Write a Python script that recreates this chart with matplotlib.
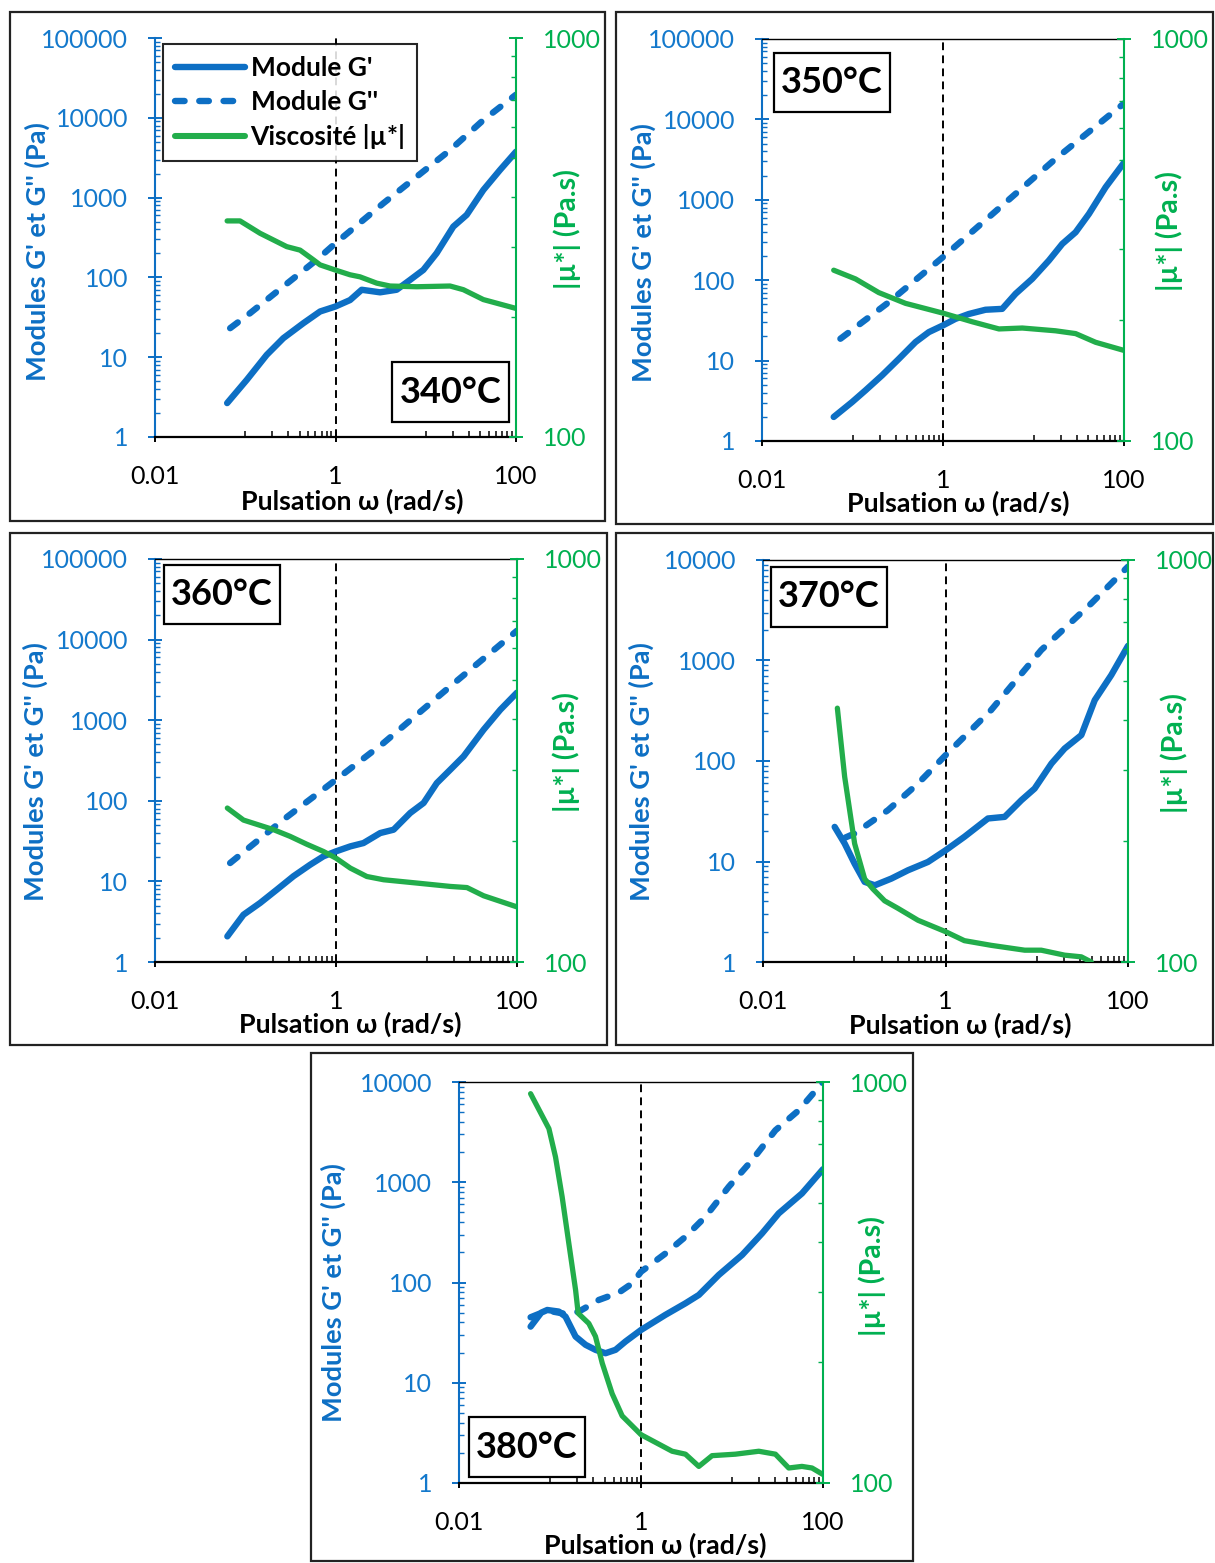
import numpy as np
import matplotlib.pyplot as plt
from matplotlib.patches import Rectangle
from matplotlib.lines import Line2D
from matplotlib.ticker import FixedLocator, FixedFormatter, NullFormatter

plt.rcParams['font.family'] = ['Lato', 'DejaVu Sans']

W, H = 1215, 1563
BLUE = '#0d6fc4'
BLUE_TXT = '#1479cc'
GREEN = '#22ad4b'
GREEN_AX = '#00b050'

# ---------------- data ----------------
# 340°C
w340_g1 = [0.063, 0.104, 0.173, 0.264, 0.441, 0.675, 1.0, 1.45, 1.95, 3.12, 4.76, 6.7, 9.4, 13.2, 20.2, 28.4, 43.5, 66.5, 100]
g1_340 = [2.66, 5.2, 10.7, 17.3, 26.7, 37.4, 43.2, 52, 70, 65, 70, 93, 124, 201, 433, 607, 1247, 2220, 3760]
w340_g2 = [0.068, 0.113, 0.264, 0.619, 1.0, 3.39, 7.94, 18.6, 43.5, 100]
g2_340 = [23.1, 35.6, 76.9, 166, 268, 849, 1830, 3940, 9380, 19500]
w340_eta = [0.063, 0.0875, 0.146, 0.288, 0.405, 0.569, 0.675, 1.0, 1.45, 1.87, 2.86, 4.02, 7.94, 18.6, 26.1, 43.5, 100]
eta_340 = [348, 348, 324, 300, 294, 278, 270, 262, 255, 252, 243, 239, 238, 239, 234, 221, 210]

# 350°C
w350_g1 = [0.062, 0.099, 0.139, 0.212, 0.325, 0.497, 0.697, 1.0, 1.37, 1.93, 2.95, 4.51, 6.34, 9.68, 14.8, 20.8, 29.2, 41.0, 62.7, 100]
g1_350 = [1.99, 3.05, 4.26, 6.55, 10.5, 17, 22.6, 27.4, 33, 38, 42.9, 44, 67.8, 104, 176, 283, 395, 668, 1435, 2900]
w350_g2 = [0.0735, 0.252, 1.0, 3.21, 17.5, 100]
g2_350 = [18.7, 53.3, 194, 608, 3230, 15800]
w350_eta = [0.062, 0.108, 0.195, 0.385, 1.0, 2.10, 4.15, 7.52, 17.5, 29.2, 48.6, 100]
eta_350 = [266, 253, 234, 220, 208, 198, 190, 191, 188, 185, 176, 168]

# 360°C
w360_g1 = [0.063, 0.095, 0.145, 0.222, 0.339, 0.518, 0.728, 1.0, 1.44, 2.01, 3.08, 4.33, 6.61, 9.29, 13.0, 18.3, 25.7, 42.8, 65.5, 100]
g1_360 = [2.08, 3.86, 5.4, 7.9, 11.6, 16.1, 20.5, 23.6, 27.2, 29.9, 39.8, 43.8, 70.6, 94, 166, 243, 356, 763, 1351, 2200]
w360_g2 = [0.0676, 0.262, 1.0, 3.35, 18.3, 100]
g2_360 = [16.9, 58.3, 183, 521, 2630, 12900]
w360_eta = [0.063, 0.095, 0.204, 0.311, 0.475, 0.728, 1.0, 1.44, 2.19, 3.35, 7.83, 18.3, 28.0, 42.8, 100]
eta_360 = [241, 225, 213, 205, 196, 188, 181, 171, 163, 160, 157, 154, 153, 146, 137]

# 370°C
w370_g1 = [0.061, 0.0785, 0.101, 0.130, 0.168, 0.255, 0.388, 0.643, 1.0, 1.61, 2.92, 4.45, 6.78, 9.48, 14.5, 20.2, 30.8, 43.2, 65.6, 100]
g1_370 = [22.1, 15.1, 9.5, 6.27, 5.8, 6.76, 8.18, 9.9, 12.9, 17.6, 26.8, 27.8, 40.7, 53.2, 94.4, 133, 181, 403, 716, 1400]
w370_g2 = [0.0798, 0.101, 0.234, 0.50, 1.0, 3.16, 11.2, 39.6, 100]
g2_370 = [17.3, 19.0, 32.4, 59.7, 114, 321, 1270, 3700, 8590]
w370_eta = [0.0653, 0.0785, 0.101, 0.130, 0.160, 0.215, 0.301, 0.50, 1.0, 1.61, 3.18, 7.38, 11.2, 20.2, 30.8, 39.6]
eta_370 = [428, 289, 197, 161, 152, 142, 136, 127, 119, 113, 110, 107, 107, 104, 103, 100]

# 380°C
w380_g1 = [0.0612, 0.08, 0.0933, 0.125, 0.148, 0.191, 0.246, 0.316, 0.407, 0.525, 0.676, 1.0, 1.85, 3.08, 4.32, 7.16, 12.9, 21.4, 32.6, 58.7, 100]
g1_380 = [36.3, 50, 53.2, 51.3, 45.7, 28.9, 23.9, 21.3, 19.7, 21.3, 25.8, 33.6, 47.5, 62, 75.1, 119, 188, 309, 489, 773, 1350]
w380_g2 = [0.0612, 0.0933, 0.148, 0.207, 0.344, 0.571, 0.80, 1.0, 1.86, 3.08, 5.11, 9.2, 16.6, 30.0, 54.1, 100]
g2_380 = [45, 52.5, 48.6, 51.2, 67, 79.3, 98, 128, 195, 286, 453, 900, 1660, 3300, 5220, 10000]
w380_eta = [0.0612, 0.0973, 0.115, 0.136, 0.161, 0.191, 0.204, 0.267, 0.316, 0.375, 0.482, 0.621, 1.0, 1.57, 2.20, 3.08, 4.32, 6.04, 10.9, 19.7, 30.0, 42.0, 58.7, 75.7, 100]
eta_380 = [935, 765, 650, 517, 396, 303, 265, 250, 232, 199, 167, 147, 132, 125, 120, 118, 110, 117, 118, 120, 118, 109, 110, 109, 105]

temps = ['340°C', '350°C', '360°C', '370°C', '380°C']
series = [
    (w340_g1, g1_340, w340_g2, g2_340, w340_eta, eta_340),
    (w350_g1, g1_350, w350_g2, g2_350, w350_eta, eta_350),
    (w360_g1, g1_360, w360_g2, g2_360, w360_eta, eta_360),
    (w370_g1, g1_370, w370_g2, g2_370, w370_eta, eta_370),
    (w380_g1, g1_380, w380_g2, g2_380, w380_eta, eta_380),
]
g_max = [1e5, 1e5, 1e5, 1e4, 1e4]

x_major = [0.01, 1, 100]
x_major_labels = ['0.01', '1', '100']
x_minor = [k * 0.1 for k in range(1, 10)] + [k * 10 for k in range(1, 10)]
eta_major = [100, 1000]
eta_major_labels = ['100', '1000']
eta_minor = [k * 100 for k in range(2, 10)]

legend_labels = ["Module G'", "Module G''", "Viscosité |µ*|"]

# ---------------- layout (pixels) ----------------
layout = [
    dict(axes=(155, 38, 516, 437), border=(10, 12, 605, 521), yl=(37, 252), yr=(567, 229),
         xl=(352, 501), tbox=(392, 362, 509, 422), top=False),
    dict(axes=(762, 39, 1124, 441), border=(616, 12, 1213, 524), yl=(643, 253), yr=(1169, 231),
         xl=(958, 503), tbox=(774, 53, 890, 112), top=True),
    dict(axes=(155, 559, 517, 962), border=(10, 533, 607, 1045), yl=(35, 772), yr=(566, 752),
         xl=(350, 1024), tbox=(164, 565, 280, 624), top=True),
    dict(axes=(763, 560, 1128, 962), border=(616, 533, 1213, 1045), yl=(641, 772), yr=(1174, 753),
         xl=(960, 1025), tbox=(771, 567, 887, 627), top=True),
    dict(axes=(459, 1082, 823, 1483), border=(311, 1053, 913, 1561), yl=(333, 1293), yr=(872, 1276),
         xl=(655, 1545), tbox=(469, 1417, 585, 1477), top=True),
]

LW_G = 4.6
LW_ETA = 3.8
DASH = (0, (1.5, 2.3))


def fig_rect(x0, y0, x1, y1):
    return [x0 / W, 1 - y1 / H, (x1 - x0) / W, (y1 - y0) / H]


fig = plt.figure(figsize=(W / 100, H / 100), dpi=100)

for i, p in enumerate(layout):
    w1, g1, w2, g2, we, eta = series[i]
    x0, y0, x1, y1 = p['axes']
    ax = fig.add_axes(fig_rect(x0, y0, x1, y1))
    ax2 = ax.twinx()

    def frac(px, py):
        return (px - x0) / (x1 - x0), (y1 - py) / (y1 - y0)

    ax.axvline(1, color='k', lw=1.4, ls=(0, (4, 2.7)), zorder=1)
    ax.plot(w1, g1, color=BLUE, lw=LW_G, solid_capstyle='round', solid_joinstyle='round', zorder=3)
    ax.plot(w2, g2, color=BLUE, lw=LW_G, ls=DASH, dash_capstyle='round', zorder=3)
    ax2.plot(we, eta, color=GREEN, lw=LW_ETA, solid_capstyle='round', solid_joinstyle='round')

    ax.set_xscale('log')
    ax.set_xlim(0.01, 100)
    ax.set_yscale('log')
    ax.set_ylim(1, g_max[i])
    ax2.set_yscale('log')
    ax2.set_ylim(100, 1000)

    ax.xaxis.set_major_locator(FixedLocator(x_major))
    ax.xaxis.set_major_formatter(FixedFormatter(x_major_labels))
    ax.xaxis.set_minor_locator(FixedLocator(x_minor))
    ax.xaxis.set_minor_formatter(NullFormatter())

    n_dec = int(round(np.log10(g_max[i])))
    g_major = [10 ** e for e in range(n_dec + 1)]
    g_minor = [k * 10 ** e for e in range(n_dec) for k in range(2, 10)]
    ax.yaxis.set_major_locator(FixedLocator(g_major))
    ax.yaxis.set_major_formatter(FixedFormatter([str(v) for v in g_major]))
    ax.yaxis.set_minor_locator(FixedLocator(g_minor))
    ax.yaxis.set_minor_formatter(NullFormatter())

    ax2.yaxis.set_major_locator(FixedLocator(eta_major))
    ax2.yaxis.set_major_formatter(FixedFormatter(eta_major_labels))
    ax2.yaxis.set_minor_locator(FixedLocator(eta_minor))
    ax2.yaxis.set_minor_formatter(NullFormatter())

    ax.tick_params(axis='x', which='major', direction='inout', length=7.5, width=1.4,
                   color='k', labelsize=18, pad=16.5)
    ax.tick_params(axis='x', which='minor', direction='in', length=4.3, width=1.1, color='k')
    ax.tick_params(axis='y', which='major', direction='inout', length=9.4, width=1.4,
                   color=BLUE, labelcolor=BLUE_TXT, labelsize=18, pad=14.5)
    ax.tick_params(axis='y', which='minor', direction='in', length=3.6, width=1.0, color=BLUE)
    ax2.tick_params(axis='y', which='major', direction='inout', length=9.4, width=1.4,
                    color=GREEN_AX, labelcolor=GREEN_AX, labelsize=18, pad=14.5)
    ax2.tick_params(axis='y', which='minor', direction='in', length=3.6, width=1.0, color=GREEN_AX)

    ax.spines['left'].set_color(BLUE)
    ax.spines['left'].set_linewidth(1.5)
    ax.spines['bottom'].set_color('k')
    ax.spines['bottom'].set_linewidth(1.6)
    ax.spines['right'].set_visible(False)
    ax.spines['top'].set_visible(p['top'])
    ax.spines['top'].set_linewidth(1.0)
    for s in ['left', 'top', 'bottom']:
        ax2.spines[s].set_visible(False)
    ax2.spines['right'].set_color(GREEN_AX)
    ax2.spines['right'].set_linewidth(1.5)

    ax.set_xlabel('Pulsation ω (rad/s)', fontsize=19.3, fontweight='bold', va='center')
    ax.xaxis.set_label_coords(*frac(*p['xl']))
    ax.set_ylabel("Modules G' et G'' (Pa)", fontsize=19.6, fontweight='bold', color=BLUE,
                  va='center', ha='center')
    ax.yaxis.set_label_coords(*frac(*p['yl']))
    ax2.set_ylabel('|µ*| (Pa.s)', fontsize=20.5, fontweight='bold', color=GREEN_AX,
                   va='center', ha='center', rotation=90)
    ax2.yaxis.set_label_coords(*frac(*p['yr']))

    # temperature box
    bx0, by0, bx1, by1 = p['tbox']
    fig.add_artist(Rectangle((bx0 / W, 1 - by1 / H), (bx1 - bx0) / W, (by1 - by0) / H,
                             transform=fig.transFigure, facecolor='white', edgecolor='k', lw=1.6, zorder=5))
    fig.text((bx0 + bx1) / 2 / W, 1 - (by0 + by1) / 2 / H, temps[i], fontsize=26, fontweight='bold',
             ha='center', va='center', zorder=6)

    # panel border
    px0, py0, px1, py1 = p['border']
    fig.add_artist(Rectangle((px0 / W, 1 - py1 / H), (px1 - px0) / W, (py1 - py0) / H,
                             transform=fig.transFigure, facecolor='none', edgecolor='#222222', lw=1.6, zorder=5))

    if i == 0:
        handles = [Line2D([], [], color=BLUE, lw=LW_G, solid_capstyle='round'),
                   Line2D([], [], color=BLUE, lw=LW_G, ls=DASH, dash_capstyle='round'),
                   Line2D([], [], color=GREEN, lw=LW_G * 0.95, solid_capstyle='round')]
        leg = ax2.legend(handles, legend_labels, loc='upper left', bbox_to_anchor=frac(163, 44),
                         borderaxespad=0, fancybox=False, edgecolor='k', framealpha=0.85,
                         prop={'weight': 'bold', 'size': 19}, handlelength=2.65,
                         handletextpad=0.22, labelspacing=0.38, borderpad=0.45)
        leg.get_frame().set_linewidth(1.5)

fig.savefig('out.png', dpi=100, facecolor='white')
